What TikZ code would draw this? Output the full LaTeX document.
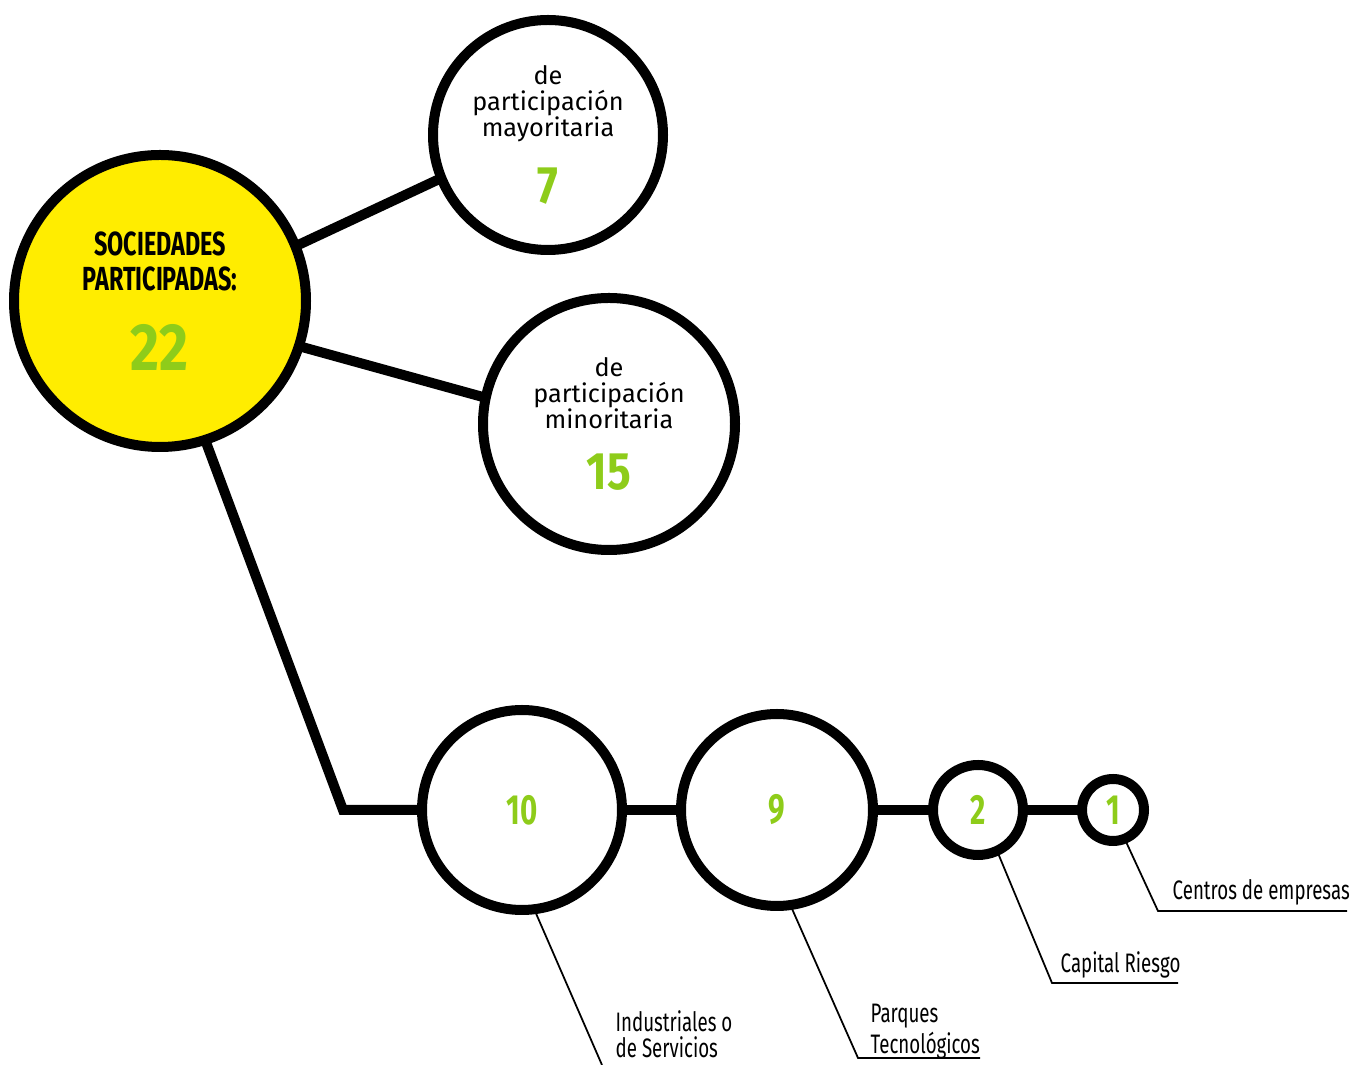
\documentclass[tikz,border=0pt]{standalone}
\usepackage{fontspec}
\setmainfont{Fira Sans}
\newfontfamily\strettofont{Fira Sans}[FakeStretch=0.7]
\newfontfamily\cifrefont{Fira Sans}[FakeStretch=0.84]
\definecolor{giallo}{RGB}{255,237,0}
\definecolor{verde}{RGB}{142,204,26}
\newcommand{\cifra}[2]{{\color{verde}\cifrefont\bfseries\fontsize{#1}{#1}\selectfont #2}}
\begin{document}
\begin{tikzpicture}[
    bolla/.style={circle,draw,line width=1mm,inner sep=0pt,outer sep=0pt,align=center},
    colleg/.style={line width=1mm,line join=miter},
    guida/.style={line width=0.5pt},
    numero/.style={font=\strettofont\bfseries\fontsize{12}{12}\selectfont,text=verde},
    testo/.style={font=\fontsize{7.2}{7.4}\selectfont},
    etich/.style={font=\strettofont\fontsize{7.6}{7.4}\selectfont,align=left,anchor=base west,inner sep=0pt}
  ]
  \useasboundingbox (0,0) rectangle (13.59,10.65);
  %cerchi
  \node[bolla,fill=giallo,minimum size=2.92cm,font=\strettofont\bfseries\fontsize{9.5}{10}\selectfont] (soc) at (1.60,7.64)
    {SOCIEDADES\\PARTICIPADAS:\\[3mm]\cifra{19}{22}};
  \node[bolla,testo,minimum size=2.30cm] (may) at (5.48,9.30)
    {de\\participación\\mayoritaria\\[2.2mm]\cifra{15}{7}};
  \node[bolla,testo,minimum size=2.52cm] (min) at (6.09,6.41)
    {de\\participación\\minoritaria\\[2.2mm]\cifra{15}{15}};
  \node[bolla,numero,minimum size=2.00cm] (ind) at (5.22,2.55) {10};
  \node[bolla,numero,minimum size=1.92cm] (par) at (7.77,2.55) {9};
  \node[bolla,numero,minimum size=0.90cm] (cap) at (9.78,2.55) {2};
  \node[bolla,numero,minimum size=0.62cm] (cen) at (11.13,2.55) {1};
  %collegamenti
  \coordinate (gomito) at (3.43,2.55);
  \draw[colleg] (soc.22) -- (may.202);
  \draw[colleg] (soc.-18) -- (min.168);
  \draw[colleg] (soc.-72) -- (gomito) -- (ind.west);
  \draw[colleg] (ind.east) -- (par.west);
  \draw[colleg] (par.east) -- (cap.west);
  \draw[colleg] (cap.east) -- (cen.west);
  %etichette
  \node[etich] (tind) at (6.15,0.07) {Industriales o\\de Servicios};
  \node[etich] (tpar) at (8.70,0.12) {Parques\\Tecnológicos};
  \node[etich] (tcap) at (10.60,0.92) {Capital Riesgo};
  \node[etich] (tcen) at (11.72,1.65) {Centros de empresas};
  \coordinate (pind) at (6.02,0);
  \coordinate (ppar) at (8.58,0.07);
  \coordinate (pcap) at (10.52,0.82);
  \coordinate (pcen) at (11.58,1.54);
  \draw[guida] (ind.-83) -- (pind);
  \draw[guida] (par.-82) -- (ppar) -- (9.80,0.07);
  \draw[guida] (cap.-65) -- (pcap) -- (11.78,0.82);
  \draw[guida] (cen.-68) -- (pcen) -- (13.47,1.54);
\end{tikzpicture}
\end{document}
